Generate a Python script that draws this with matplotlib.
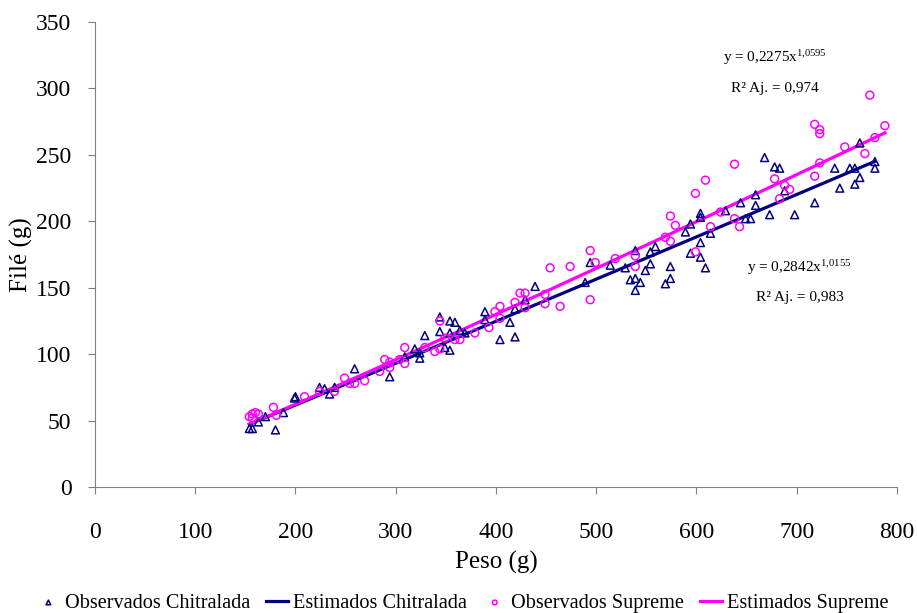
import matplotlib

matplotlib.use("Agg")
import matplotlib.pyplot as plt
import numpy as np

plt.rcParams["font.family"] = ["Liberation Serif", "DejaVu Serif"]
plt.rcParams["mathtext.fontset"] = "custom"
plt.rcParams["mathtext.rm"] = "Liberation Serif"
plt.rcParams["mathtext.it"] = "Liberation Serif:italic"

# Observados Chitralada: peso (g), filé (g)
chit_peso = [154, 157, 163, 170, 180, 188, 199, 200, 224, 229, 234, 239, 259, 294, 309,
             319, 324, 324, 329, 344, 344, 349, 354, 354, 354, 359, 364, 369, 389, 389,
             404, 414, 419, 419, 429, 439, 489, 494, 514, 529, 534, 539, 539, 544, 539,
             549, 554, 554, 559, 569, 574, 574, 589, 594, 594, 604, 604, 604, 604, 609,
             614, 629, 644, 649, 654, 659, 659, 668, 673, 678, 683, 688, 698, 718, 738,
             743, 753, 758, 758, 763, 763, 778, 778]
chit_file = [44, 44, 49, 53, 43, 56, 67, 68, 75, 74, 70, 75, 89, 83, 98,
             104, 97, 101, 114, 128, 117, 105, 103, 125, 116, 124, 118, 116, 132, 126,
             111, 124, 113, 134, 141, 151, 154, 169, 167, 165, 156, 157, 148, 154, 178,
             163, 168, 177, 181, 153, 166, 157, 192, 198, 176, 206, 203, 184, 173, 165,
             191, 208, 214, 202, 202, 220, 212, 248, 205, 241, 240, 223, 205, 214, 240,
             225, 240, 240, 228, 233, 259, 245, 240]

# Observados Supreme
sup_peso = [154, 157, 160, 157, 163, 178, 181, 209, 224, 239, 249, 254, 259, 269, 284,
            289, 294, 294, 304, 309, 309, 329, 339, 344, 344, 349, 359, 364, 379, 393,
            399, 404, 404, 419, 424, 429, 429, 449, 449, 454, 464, 474, 494, 494, 499,
            519, 539, 539, 569, 574, 574, 579, 599, 599, 609, 614, 624, 638, 638, 643,
            678, 683, 688, 693, 718, 718, 723, 723, 723, 748, 768, 773, 778, 788]
sup_file = [53, 55, 56, 52, 55, 60, 54, 68, 72, 72, 82, 78, 78, 80, 87,
            96, 94, 90, 96, 105, 93, 105, 102, 104, 125, 112, 111, 111, 116, 120,
            132, 136, 127, 139, 146, 146, 135, 145, 138, 165, 136, 166, 178, 141, 169,
            172, 174, 166, 188, 204, 185, 197, 221, 177, 231, 196, 207, 243, 202, 196,
            232, 217, 227, 224, 273, 234, 269, 266, 244, 256, 251, 295, 263, 272]

# Estimados: power fits reported on the chart
chit_a, chit_b = 0.2842, 1.0155
sup_a, sup_b = 0.2275, 1.0595

navy = "#000080"
magenta = "#FF00FF"

fig = plt.figure(figsize=(9.17, 6.13), dpi=100)
ax = fig.add_axes([0.1036, 0.2055, 0.8745, 0.7585])

cx = np.sort(np.array(chit_peso, dtype=float))
sx = np.sort(np.array(sup_peso, dtype=float))

ax.scatter(chit_peso, chit_file, marker="^", s=32, facecolors="none",
           edgecolors=navy, linewidths=1.1, label="Observados Chitralada", zorder=3)
ax.plot(cx, chit_a * cx ** chit_b, color=navy, lw=2.3,
        label="Estimados Chitralada", zorder=2)
ax.scatter(sup_peso, sup_file, marker="o", s=32, facecolors="none",
           edgecolors=magenta, linewidths=1.1, label="Observados Supreme", zorder=3)
ax.plot(sx, sup_a * sx ** sup_b, color=magenta, lw=2.3,
        label="Estimados Supreme", zorder=2)

ax.set_xlim(0, 800)
ax.set_ylim(0, 350)
ax.set_xticks(range(0, 801, 100))
ax.set_yticks(range(0, 351, 50))
ax.tick_params(labelsize=17, direction="out", length=5, color="#808080")
ax.tick_params(axis="x", pad=20)
ax.tick_params(axis="y", pad=12)
for side in ("top", "right"):
    ax.spines[side].set_visible(False)
for side in ("left", "bottom"):
    ax.spines[side].set_color("#808080")
ax.set_xlabel("Peso (g)", fontsize=18, labelpad=6)
ax.set_ylabel("Filé (g)", fontsize=18, labelpad=2)

ax.text(678, 323, r"y = 0,2275x$^{1{,}0595}$", fontsize=11, ha="center", va="center")
ax.text(678, 300, "R² Aj. = 0,974", fontsize=11, ha="center", va="center")
ax.text(703, 165, r"y = 0,2842x$^{1{,}0155}$", fontsize=11, ha="center", va="center")
ax.text(703, 143, "R² Aj. = 0,983", fontsize=11, ha="center", va="center")

fig.legend(loc="center", bbox_to_anchor=(0.505, 0.016), ncol=4, frameon=False,
           fontsize=14.6, handlelength=1.1, handletextpad=0.25, columnspacing=0.8,
           markerscale=0.6, borderpad=0.1)

fig.savefig("out.png", dpi=100)
